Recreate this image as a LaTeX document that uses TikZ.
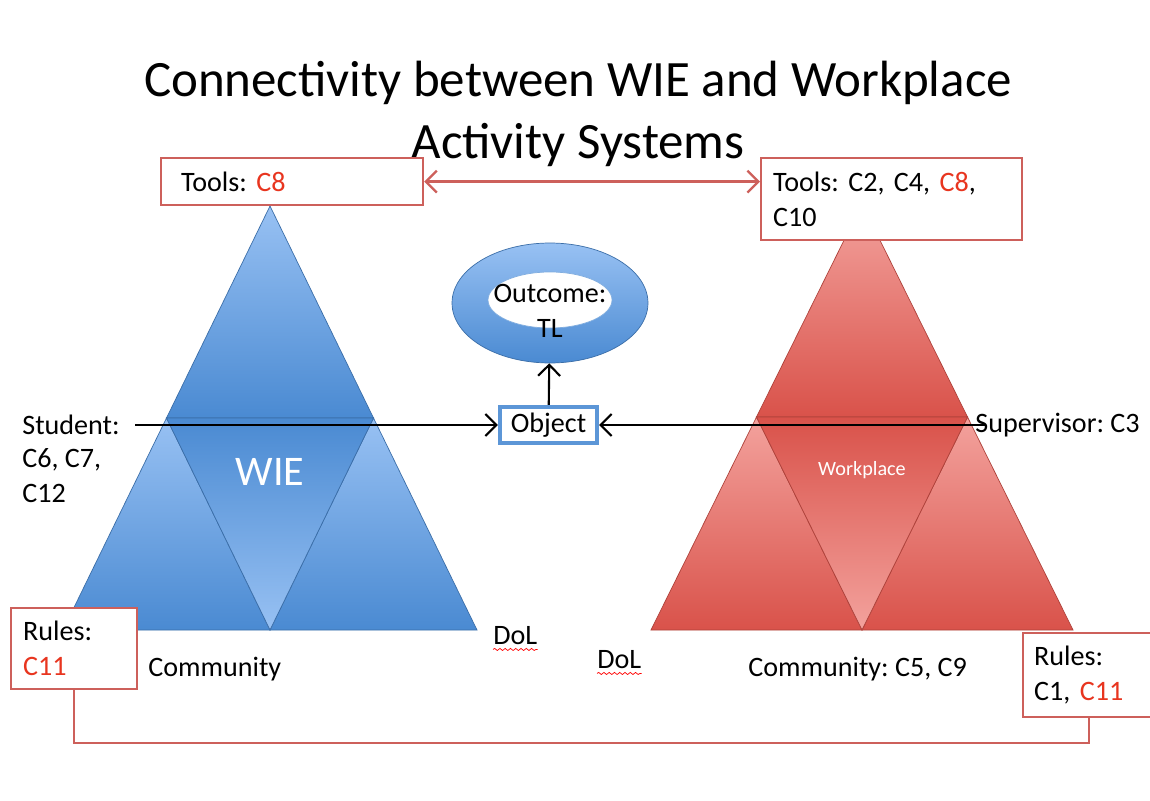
\documentclass[tikz,border=0pt]{standalone}
\usepackage{fontspec}
\setmainfont{Carlito}
\frenchspacing
\usetikzlibrary{positioning, arrows.meta, shapes.geometric, decorations.pathmorphing}
\definecolor{boxred}{HTML}{CD605B}
\definecolor{hotred}{HTML}{E8351F}
\definecolor{blueA}{HTML}{98C1F3}
\definecolor{blueB}{HTML}{4A8AD2}
\definecolor{redA}{HTML}{F3A29D}
\definecolor{redB}{HTML}{D9524A}
\newcommand{\hot}[1]{\textcolor{hotred}{#1}}
\tikzset{
x=0.02cm, y=-0.02cm, % one unit is one pixel of the slide, y runs downwards
>={Straight Barb[length=2.2mm, width=4.4mm]}, % open arrow heads like the slide
every node/.style={font=\fontsize{16}{19.8}\selectfont}, % body text
lbl/.style={inner sep=0pt, anchor=west, align=left}, % free text labels
card/.style={draw=boxred, line width=1.3pt, fill=white, anchor=north west, align=left, inner ysep=0pt}, % red framed boxes
link/.style={draw=boxred, line width=1.3pt}, % red connectors
flow/.style={->, line width=1.2pt, black}, % black arrows
bluetri/.style={top color=blueA, bottom color=blueB, draw=blueB!80!black, line width=0.4pt},
blueinv/.style={top color=blueB, bottom color=blueA, draw=blueB!80!black, line width=0.4pt},
redtri/.style={top color=redA, bottom color=redB, draw=redB!80!black, line width=0.4pt},
redinv/.style={top color=redB, bottom color=redA, draw=redB!80!black, line width=0.4pt},
squiggle/.style={draw=red, line width=0.4pt, decorate, decoration={snake, amplitude=0.6pt, segment length=3pt}}, % spell check mark
}

\begin{document}
\begin{tikzpicture}
\path[use as bounding box, fill=white] (0,0) rectangle (1150,801);

\node[align=center, font=\fontsize{29}{35.3}\selectfont] (title) at (578,114) {Connectivity between WIE and Workplace\\Activity Systems};

% WIE activity system
\path[bluetri] (270,206) -- (166.5,418) -- (373.5,418) -- cycle;
\path[bluetri] (166.5,418) -- (63,630) -- (270,630) -- cycle;
\path[bluetri] (373.5,418) -- (270,630) -- (477,630) -- cycle;
\path[blueinv] (166.5,418) -- (373.5,418) -- (270,630) -- cycle;
\node[text=white, font=\fontsize{24}{28}\selectfont] (wie) at (270,472) {WIE};

% Workplace activity system
\path[redtri] (862,204) -- (756.5,417) -- (967.5,417) -- cycle;
\path[redtri] (756.5,417) -- (651,630) -- (862,630) -- cycle;
\path[redtri] (967.5,417) -- (862,630) -- (1073,630) -- cycle;
\path[redinv] (756.5,417) -- (967.5,417) -- (862,630) -- cycle;
\node[text=white, font=\fontsize{11.5}{14}\selectfont] (workplace) at (862,470) {Workplace};

% boxes
\node[card, inner xsep=0.4cm, text width=4.44cm, minimum height=0.94cm] (toolsL) at (160,157) {Tools: \hot{C8}};
\node[card, inner xsep=0.24cm, text width=4.74cm, minimum height=1.64cm] (toolsR) at (760,157) {Tools: C2, C4, \hot{C8},\\C10};
\node[card, inner xsep=0.24cm, text width=2.04cm, minimum height=1.62cm] (rulesL) at (10,607) {Rules:\\\hot{C11}};
\node[card, inner xsep=0.22cm, text width=2.2cm, minimum height=1.68cm] (rulesR) at (1022,632) {Rules:\\C1, \hot{C11}};

% object and outcome
\node[draw=blueB!90, line width=2.5pt, fill=white, minimum width=1.94cm, minimum height=0.72cm, inner sep=0pt] (object) at (548.5,425) {Object};
\node[ellipse, minimum width=3.92cm, minimum height=2.4cm, top color=blueA, bottom color=blueB, draw=blueB!80!black, line width=0.4pt] (outcome) at (550,303) {};
\fill[white, draw=blueB!70] (550,300) ellipse [x radius=1.24cm, y radius=0.56cm];
\node[align=center] (outcomelbl) at (550,311) {Outcome:\\TL};

% subjects and the rest
\node[lbl] (student) at (22,425) {Student:};
\node[lbl, below right=0.26cm and 0pt of student.south west] (studentc) {C6, C7,\\C12};
\node[lbl] (supervisor) at (975,425) {Supervisor: C3};
\node[lbl] (communityL) at (148,669) {Community};
\node[lbl] (communityR) at (748,669) {Community: C5, C9};
\node[lbl] (dolA) at (493,636) {DoL};
\node[lbl] (dolB) at (597,660) {DoL};
\draw[squiggle] ([yshift=-0.08cm]dolA.south west) -- ([yshift=-0.08cm]dolA.south east);
\draw[squiggle] ([yshift=-0.08cm]dolB.south west) -- ([yshift=-0.08cm]dolB.south east);

% connectors
\draw[link, <->] (toolsL.east) -- (toolsL.east -| toolsR.west);
\draw[link] (rulesL.south) -- ++(0,53) -| (rulesR.south);
\draw[flow, shorten <=0.3cm] (student) -- (object);
\draw[flow, shorten <=-0.2cm] (supervisor) -- (object);
\draw[flow] (object) -- (outcome);
\end{tikzpicture}
\end{document}
